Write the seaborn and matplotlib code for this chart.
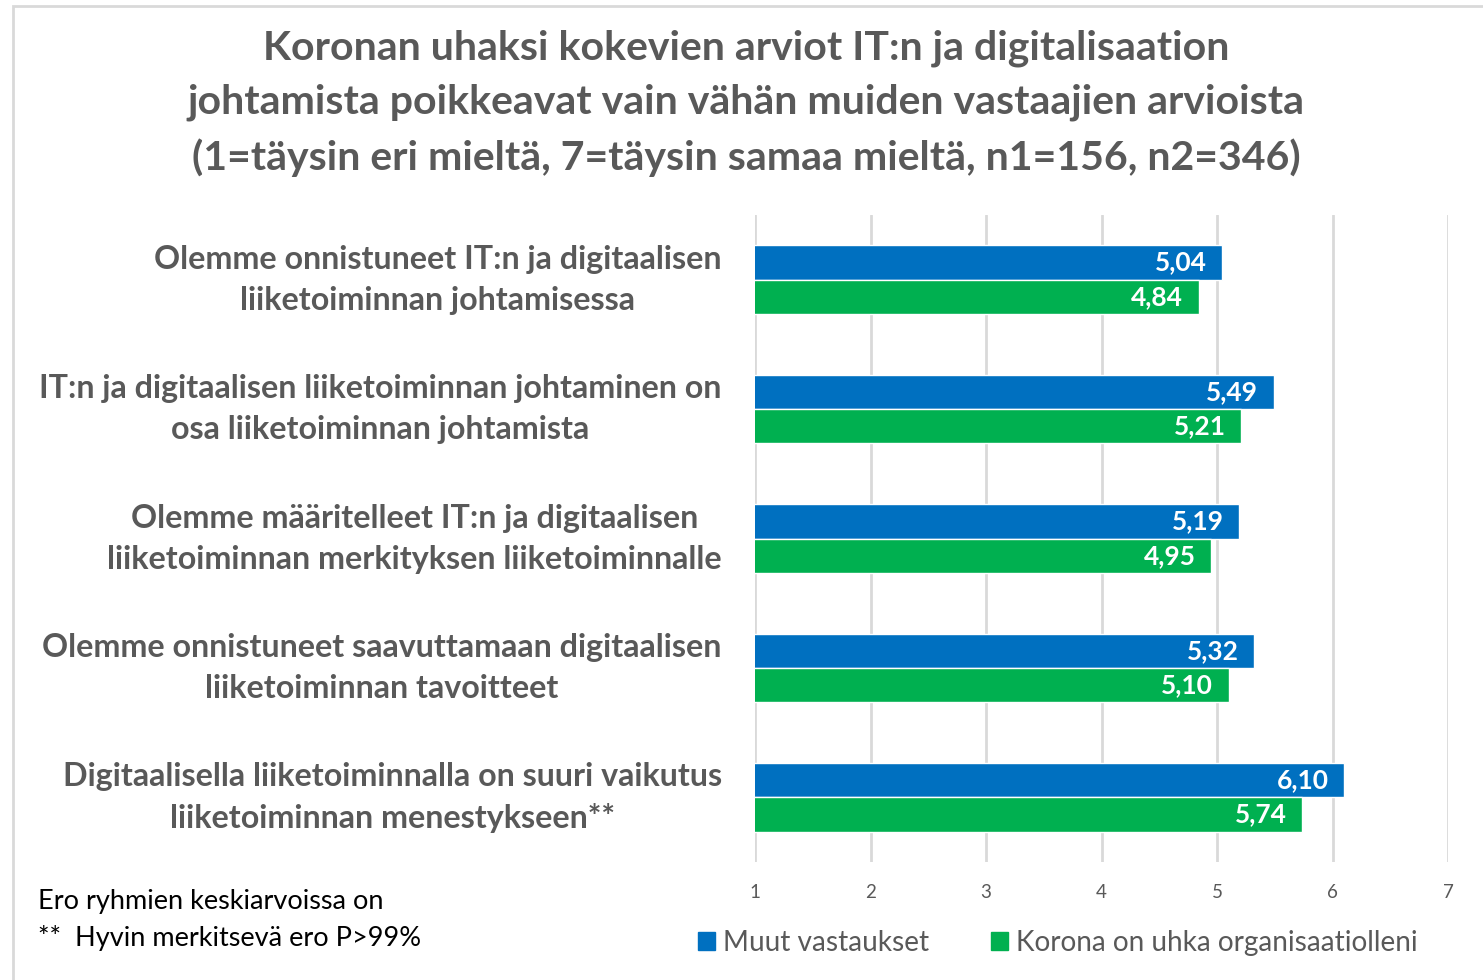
import matplotlib
matplotlib.use("Agg")
import matplotlib.pyplot as plt
import seaborn as sns
import pandas as pd
from matplotlib.patches import Rectangle

categories = [
    "Olemme onnistuneet IT:n ja digitaalisen\nliiketoiminnan johtamisessa",
    "IT:n ja digitaalisen liiketoiminnan johtaminen on\nosa liiketoiminnan johtamista",
    "Olemme määritelleet IT:n ja digitaalisen\nliiketoiminnan merkityksen liiketoiminnalle",
    "Olemme onnistuneet saavuttamaan digitaalisen\nliiketoiminnan tavoitteet",
    "Digitaalisella liiketoiminnalla on suuri vaikutus\nliiketoiminnan menestykseen**",
]
series_names = ["Muut vastaukset", "Korona on uhka organisaatiolleni"]
muut = [5.04, 5.49, 5.19, 5.32, 6.10]
korona = [4.84, 5.21, 4.95, 5.10, 5.74]
ticks = [1, 2, 3, 4, 5, 6, 7]
title = ("Koronan uhaksi kokevien arviot IT:n ja digitalisaation\n"
         "johtamista poikkeavat vain vähän muiden vastaajien arvioista\n"
         "(1=täysin eri mieltä, 7=täysin samaa mieltä, n1=156, n2=346)")
footnote = "Ero ryhmien keskiarvoissa on\n**  Hyvin merkitsevä ero P>99%"

colors = ["#0070C0", "#00B050"]
gray = "#595959"

df = pd.DataFrame({
    "cat": categories * 2,
    "value": muut + korona,
    "series": [series_names[0]] * 5 + [series_names[1]] * 5,
})

sns.set_theme(style="white")
plt.rcParams["font.family"] = ["Lato", "DejaVu Sans"]

fig = plt.figure(figsize=(14.83, 9.80), dpi=100)
ax = fig.add_axes([755 / 1483, 1 - 862 / 980, (1448 - 755) / 1483, (862 - 215) / 980])

sns.barplot(data=df, y="cat", x="value", hue="series", hue_order=series_names,
            palette=colors, orient="h", width=0.53, ax=ax, legend=False,
            saturation=1, errorbar=None, zorder=3)

ax.set_xlim(1, 7)
ax.set_ylim(4.5, -0.5)
ax.set_xticks(ticks)
ax.set_xticklabels([str(t) for t in ticks], color=gray, fontsize=13.5)
ax.tick_params(axis="x", length=0, pad=16)
ax.set_yticks([])
ax.set_xlabel("")
ax.set_ylabel("")
for s in ax.spines.values():
    s.set_visible(False)
ax.xaxis.grid(True, color="#D9D9D9", linewidth=2)
ax.set_axisbelow(True)

# value labels
for cont in ax.containers:
    for p in cont.patches:
        w = p.get_width()
        yc = p.get_y() + p.get_height() / 2
        ax.annotate(f"{w:.2f}".replace(".", ","), xy=(w, yc), xytext=(-11, 0),
                    textcoords="offset points", ha="right", va="center",
                    color="white", fontsize=19, fontweight="bold", zorder=5)

# category labels
for i, c in enumerate(categories):
    ax.annotate(c, xy=(0, i), xycoords=("axes fraction", "data"),
                xytext=(-24, 0), textcoords="offset points",
                ha="right", va="center", ma="center", color=gray,
                fontsize=23.2, fontweight="bold", linespacing=1.5)

fig.text(0.503, 1 - 103 / 980, title, ha="center", va="center",
         color=gray, fontsize=29.5, fontweight="bold", linespacing=1.55)

fig.text(38 / 1483, 1 - 920 / 980, footnote, ha="left", va="center",
         color="black", fontsize=19.5, linespacing=1.55)

# legend
handles = [Rectangle((0, 0), 1, 1, color=c) for c in colors]
fig.legend(handles, series_names, loc="center", bbox_to_anchor=(1058 / 1483, 1 - 943 / 980),
           ncol=2, frameon=False, fontsize=20.2, handlelength=0.6, handleheight=0.6,
           handletextpad=0.3, columnspacing=2.2, labelcolor=gray)

# outer border
fig.patches.append(Rectangle((13 / 1483, -0.1), 2, 1 - 6 / 980 + 0.1,
                             transform=fig.transFigure, fill=False,
                             edgecolor="#D9D9D9", linewidth=2))

fig.savefig("out.png", dpi=100)
